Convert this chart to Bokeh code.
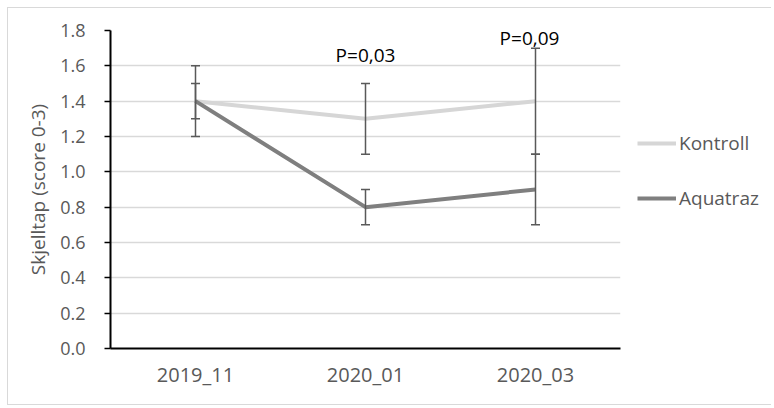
from bokeh.plotting import figure
from bokeh.layouts import row
from bokeh.models import (FactorRange, Range1d, FixedTicker, PrintfTickFormatter,
                          Legend, LegendItem, Whisker, ColumnDataSource, TeeHead)
from bokeh.embed import file_html
from bokeh.resources import INLINE
from bokeh.core.properties import value

# ---- data ----
categories = ["2019_11", "2020_01", "2020_03"]
kontroll = [1.4, 1.3, 1.4]
kontroll_err = [0.2, 0.2, 0.3]
aquatraz = [1.4, 0.8, 0.9]
aquatraz_err = [0.1, 0.1, 0.2]
y_ticks = [0.0, 0.2, 0.4, 0.6, 0.8, 1.0, 1.2, 1.4, 1.6, 1.8]
p_labels = ["P=0,03", "P=0,09"]
p_label_x = ["2020_01", "2020_03"]
p_label_y = [1.66, 1.76]
p_label_dx = [0, -6]
series_names = ["Kontroll", "Aquatraz"]

FONT = "Open Sans"
GRAY_TXT = "#595959"
C_KON = "#d6d6d6"
C_AQU = "#7f7f7f"
C_ERR = "#595959"
BORDER = "1px solid #d9d9d9"

p = figure(x_range=FactorRange(*categories, range_padding=0),
           y_range=Range1d(0, 1.8),
           width=622, height=398, output_backend="svg", toolbar_location=None,
           min_border_left=102, min_border_right=10, min_border_top=22, min_border_bottom=58)
p.styles = {"border-left": BORDER, "border-top": BORDER, "border-bottom": BORDER}
p.outline_line_color = None
p.background_fill_color = "white"
p.border_fill_color = "white"

# grid
p.xgrid.grid_line_color = None
p.ygrid.grid_line_color = "#d9d9d9"
p.ygrid.grid_line_width = 1.5

# y axis
p.yaxis.ticker = FixedTicker(ticks=y_ticks)
p.yaxis.formatter = PrintfTickFormatter(format="%.1f")
p.yaxis.axis_line_color = "black"
p.yaxis.axis_line_width = 2
p.yaxis.major_tick_line_color = "black"
p.yaxis.major_tick_line_width = 1.5
p.yaxis.major_tick_out = 6
p.yaxis.major_tick_in = 0
p.yaxis.minor_tick_line_color = None
p.yaxis.major_label_standoff = 19
p.yaxis.major_label_text_font = FONT
p.yaxis.major_label_text_font_size = "18px"
p.yaxis.major_label_text_color = GRAY_TXT
p.yaxis.axis_label = "Skjelltap (score 0-3)"
p.yaxis.axis_label_text_font = FONT
p.yaxis.axis_label_text_font_size = "19px"
p.yaxis.axis_label_text_font_style = "normal"
p.yaxis.axis_label_text_color = GRAY_TXT
p.yaxis.axis_label_standoff = 6

# x axis
p.xaxis.axis_line_color = "black"
p.xaxis.axis_line_width = 2
p.xaxis.major_tick_line_color = None
p.xaxis.minor_tick_line_color = None
p.xaxis.major_tick_out = 0
p.xaxis.major_label_standoff = 12
p.xaxis.major_label_text_font = FONT
p.xaxis.major_label_text_font_size = "20px"
p.xaxis.major_label_text_color = GRAY_TXT

# lines
p.line(categories, kontroll, line_color=C_KON, line_width=4)
p.line(categories, aquatraz, line_color=C_AQU, line_width=4)

# error bars
for vals, errs in ((kontroll, kontroll_err), (aquatraz, aquatraz_err)):
    src = ColumnDataSource(data=dict(
        x=categories,
        upper=[v + e for v, e in zip(vals, errs)],
        lower=[v - e for v, e in zip(vals, errs)]))
    w = Whisker(source=src, base="x", upper="upper", lower="lower",
                line_color=C_ERR, line_width=1.5, level="overlay",
                upper_head=TeeHead(size=9, line_color=C_ERR, line_width=1.5),
                lower_head=TeeHead(size=9, line_color=C_ERR, line_width=1.5))
    p.add_layout(w)

# p-value labels
for lab, xx, yy, dx in zip(p_labels, p_label_x, p_label_y, p_label_dx):
    p.text(x=[xx], y=[yy], text=[lab], x_offset=dx, text_align="center",
           text_baseline="middle", text_font=value(FONT), text_font_size="19px",
           text_color="black")

# ---- legend panel (series drawn hidden, only their legend entries show) ----
pl = figure(width=142, height=398, output_backend="svg", toolbar_location=None,
            x_axis_type=None, y_axis_type=None,
            x_range=FactorRange(*categories, range_padding=0), y_range=Range1d(0, 1.8),
            min_border_left=0, min_border_right=0, min_border_top=0, min_border_bottom=0)
pl.styles = {"border-top": BORDER, "border-bottom": BORDER}
pl.outline_line_color = None
pl.grid.visible = False
lk = pl.line(categories, kontroll, line_color=C_KON, line_width=4, visible=False)
la = pl.line(categories, aquatraz, line_color=C_AQU, line_width=4, visible=False)
legend = Legend(items=[LegendItem(label=series_names[0], renderers=[lk]),
                       LegendItem(label=series_names[1], renderers=[la])],
                location=(8, 137), border_line_color=None, background_fill_alpha=0,
                inactive_fill_alpha=0, padding=0, margin=0, spacing=29,
                glyph_width=39, glyph_height=20, label_height=20, label_standoff=3,
                label_text_font=FONT, label_text_font_size="19px",
                label_text_color=GRAY_TXT)
pl.add_layout(legend)

lay = row(p, pl, spacing=0)
lay.styles = {"margin-left": "7px", "margin-top": "7px"}

open("out.html", "w").write(file_html(lay, INLINE))
